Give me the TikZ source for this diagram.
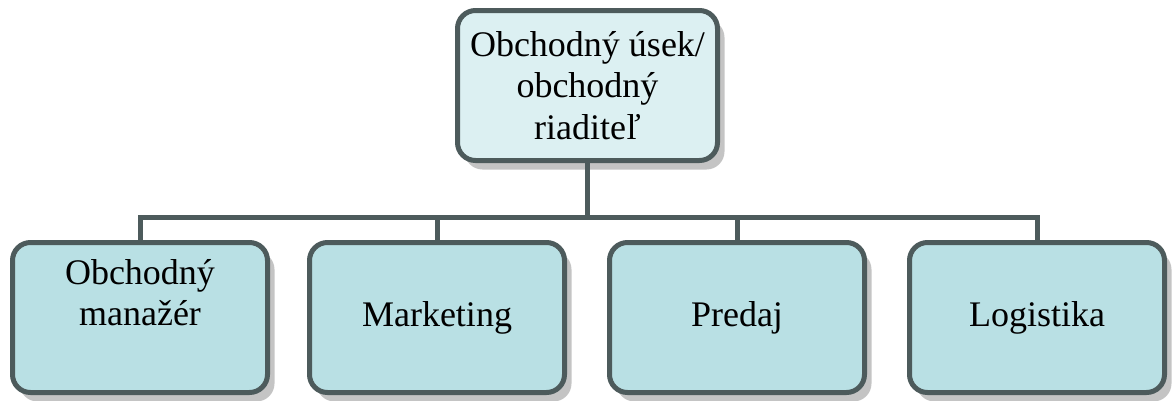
\documentclass[tikz,border=0pt]{standalone}
\usepackage{fontspec}
\setmainfont{Liberation Serif}
\usepackage{tikz}
\usetikzlibrary{positioning, shadows}
\definecolor{linecolor}{RGB}{77, 91, 92}
\definecolor{headbg}{RGB}{220, 240, 242}
\definecolor{unitbg}{RGB}{185, 224, 228}
\definecolor{shadowcol}{RGB}{196, 196, 196}

\tikzset{
  orgbox/.style={draw=linecolor, line width=5pt, rounded corners=18pt, align=center,
    font=\fontsize{36}{41.5}\selectfont, inner sep=0pt,
    drop shadow={shadow xshift=7pt, shadow yshift=-9pt, fill=shadowcol, opacity=1}},
  headbox/.style={orgbox, fill=headbg, minimum width=260pt, minimum height=150pt},
  unitbox/.style={orgbox, fill=unitbg, minimum width=255pt, minimum height=150pt},
  conn/.style={draw=linecolor, line width=5pt}
}

\begin{document}
\begin{tikzpicture}[x=1pt, y=1pt]
  \useasboundingbox (0,0) rectangle (1173,-400);

  % Head of the department
  \node[headbox] (head) at (587.5,-85.5) {Obchodný úsek/\\obchodný\\riaditeľ};

  % Units below
  \node[unitbox] (om) at (140,-317.5) {};
  \node[align=center, font=\fontsize{36}{41.5}\selectfont, anchor=north, inner sep=0pt] (omtext) at ([yshift=-19pt]om.north) {Obchodný\\manažér};
  \node[unitbox] (mkt) at (437,-317.5) {Marketing};
  \node[unitbox] (pred) at (737,-317.5) {Predaj};
  \node[unitbox] (log) at (1037,-317.5) {Logistika};

  % Connectors
  \coordinate (bus) at (587.5,-217);
  \draw[conn] (head.south) -- (bus);
  \draw[conn] (om.north) -- (om.north |- bus) -- (log.north |- bus) -- (log.north);
  \draw[conn] (mkt.north) -- (mkt.north |- bus);
  \draw[conn] (pred.north) -- (pred.north |- bus);
\end{tikzpicture}
\end{document}
